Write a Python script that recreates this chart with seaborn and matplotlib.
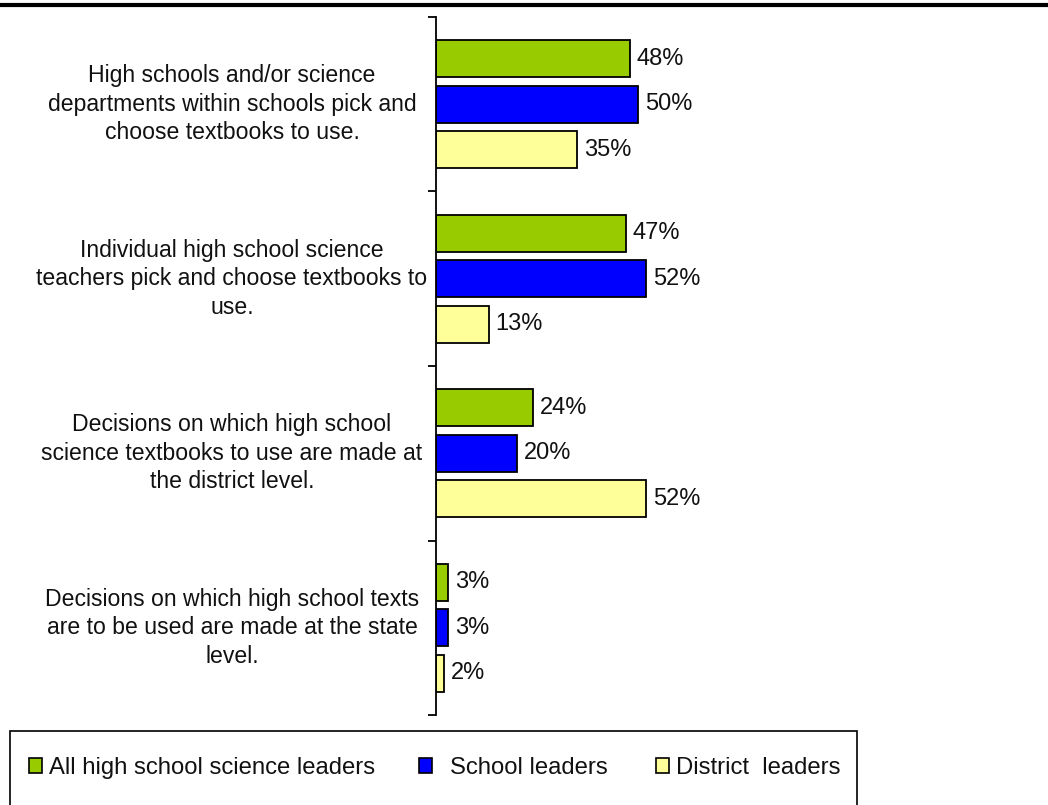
import matplotlib
matplotlib.use("Agg")
import matplotlib.pyplot as plt
import seaborn as sns
import pandas as pd
from matplotlib.lines import Line2D
from matplotlib.patches import Rectangle
from matplotlib.transforms import blended_transform_factory

categories = [
    "High schools and/or science\ndepartments within schools pick and\nchoose textbooks to use.",
    "Individual high school science\nteachers pick and choose textbooks to\nuse.",
    "Decisions on which high school\nscience textbooks to use are made at\nthe district level.",
    "Decisions on which high school texts\nare to be used are made at the state\nlevel.",
]
series_names = ["All high school science leaders", "School leaders", "District  leaders"]
all_leaders = [48, 47, 24, 3]
school_leaders = [50, 52, 20, 3]
district_leaders = [35, 13, 52, 2]
colors = ["#99CC00", "#0000FF", "#FFFF99"]

rows = []
for s, vals in zip(series_names, [all_leaders, school_leaders, district_leaders]):
    for c, v in zip(categories, vals):
        rows.append({"cat": c, "series": s, "value": v})
df = pd.DataFrame(rows)

sns.set_theme(style="white")
plt.rcParams["font.family"] = ["Liberation Sans", "DejaVu Sans"]

fig = plt.figure(figsize=(10.48, 8.05), dpi=100)
ax = fig.add_axes([436/1048, 1-715/805, 404/1048, (715-17)/805])

sns.barplot(data=df, y="cat", x="value", hue="series", order=categories,
            hue_order=series_names, palette=colors, orient="h", saturation=1,
            width=0.78, gap=0.18, edgecolor="black", linewidth=1.3,
            legend=False, ax=ax)

ax.set_xlim(0, 100)
ax.set_ylim(3.5, -0.5)
for sp in ["top", "right", "bottom"]:
    ax.spines[sp].set_visible(False)
ax.spines["left"].set_color("black")
ax.spines["left"].set_linewidth(1.3)
ax.set_xticks([])
ax.set_xlabel("")
ax.set_ylabel("")
ax.set_yticks([i - 0.5 for i in range(len(categories) + 1)])
ax.set_yticklabels([])
ax.tick_params(axis="y", left=True, length=6, width=1.3, color="black", direction="out")

for cont in ax.containers:
    for patch in cont:
        w = patch.get_width()
        ax.text(w + 1.7, patch.get_y() + patch.get_height() / 2, f"{w:.0f}%",
                va="center", ha="left", fontsize=17, color="#111111")

trans = blended_transform_factory(fig.transFigure, ax.transData)
for i, c in enumerate(categories):
    ax.text(232/1048, i, c, transform=trans, ha="center", va="center",
            multialignment="center", fontsize=16.6, linespacing=1.3, color="#111111")

fig.add_artist(Line2D([0, 1], [1-5/805, 1-5/805], color="black", lw=3,
                      transform=fig.transFigure))

fig.add_artist(Rectangle((10/1048, -0.05), (857-10)/1048, (1-731/805) + 0.05,
                         transform=fig.transFigure, facecolor="white",
                         edgecolor="black", lw=1.2))

legend_x = [29, 419, 656]
legend_pad = [0.3, 0.75, 0.3]
for name, col, lx, pad in zip(series_names, colors, legend_x, legend_pad):
    h = plt.Rectangle((0, 0), 1, 1, facecolor=col, edgecolor="black", lw=1.2)
    leg = fig.legend([h], [name], loc="center left",
                     bbox_to_anchor=(lx/1048, 1-768/805), frameon=False,
                     fontsize=17.2, handlelength=0.55, handleheight=0.55,
                     handletextpad=pad, borderpad=0, borderaxespad=0)
    for t in leg.get_texts():
        t.set_color("#111111")

fig.savefig("out.png", dpi=100)
